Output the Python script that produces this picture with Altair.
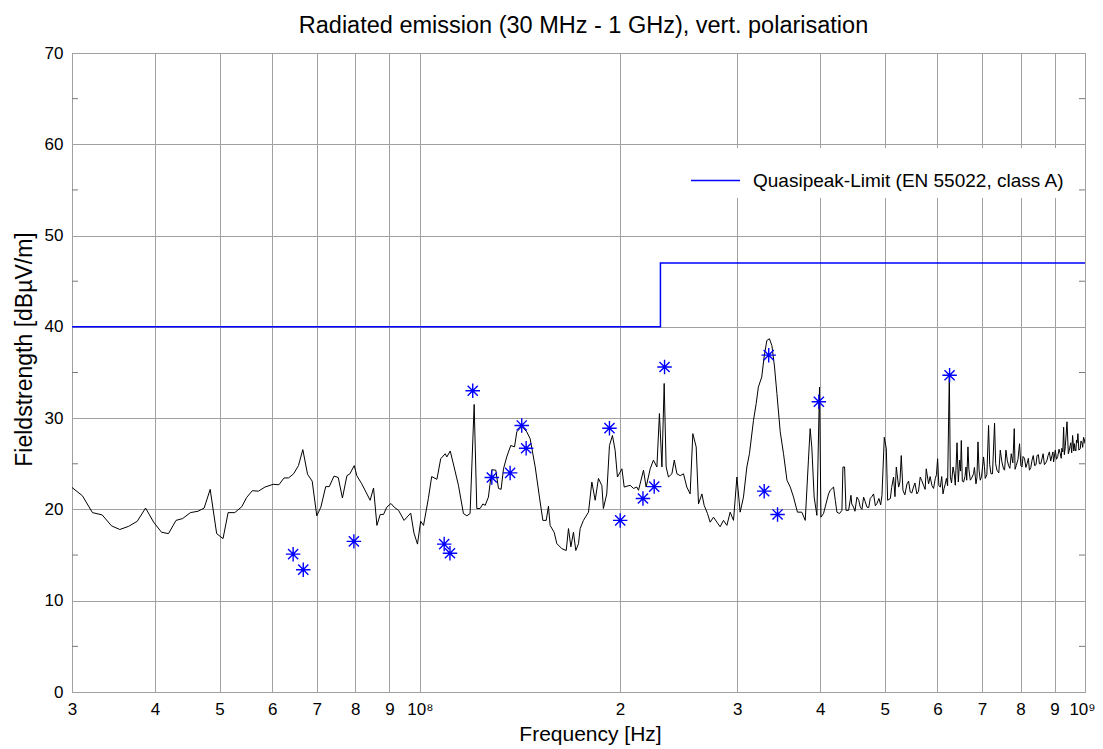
import altair as alt
import pandas as pd
import numpy as np

# ---------------- data ----------------
# measured trace: frequency in MHz, level in dBuV/m
freq_mhz = [
    30.0, 31.1, 32.2, 33.3, 34.4, 35.4, 36.5, 37.6, 38.7, 39.8,
    40.9, 41.9, 43.0, 44.0, 45.2, 46.4, 47.4, 48.4, 49.5, 50.6,
    51.5, 52.7, 54.0, 54.9, 56.0, 57.2, 58.5, 60.2, 61.4, 62.5,
    63.5, 64.6, 65.7, 66.7, 67.8, 68.9, 70.0, 71.0, 72.2, 73.1,
    74.3, 75.4, 76.5, 77.7, 78.5, 79.7, 80.4, 81.8, 83.0, 84.2,
    85.2, 86.2, 87.2, 88.2, 89.2, 90.5, 91.5, 92.9, 94.7, 96.9,
    98.0, 99.2, 100.3, 101.3, 103.0, 104.2, 106.1, 107.5, 109.2, 109.8,
    111.1, 112.6, 114.3, 116.3, 117.7, 119.0, 120.7, 121.8, 123.2, 124.4,
    125.4, 126.8, 128.3, 130.1, 131.3, 132.5, 133.6, 135.1, 137.0, 138.8,
    139.9, 142.4, 144.8, 146.5, 149.1, 151.3, 153.1, 154.9, 156.1, 157.0,
    159.2, 160.7, 163.5, 166.0, 167.3, 168.7, 170.2, 171.6, 173.2, 174.2,
    176.2, 179.3, 181.4, 183.5, 185.6, 187.8, 188.8, 191.0, 192.8, 194.8,
    196.6, 198.2, 201.3, 202.9, 207.1, 209.5, 212.0, 213.2, 216.9, 218.9,
    222.0, 224.5, 227.2, 229.2, 231.2, 233.0, 234.6, 236.5, 239.3, 241.3,
    243.5, 246.3, 249.1, 252.0, 254.9, 257.3, 260.3, 262.4, 265.5, 267.6,
    270.7, 273.2, 276.4, 279.7, 282.8, 286.1, 289.5, 292.8, 296.2, 299.7,
    303.1, 306.6, 310.2, 313.0, 317.4, 320.4, 322.8, 326.6, 329.3, 332.4,
    335.4, 338.3, 341.4, 344.2, 348.2, 352.2, 356.4, 360.5, 364.6, 369.6,
    375.2, 379.7, 383.9, 386.2, 388.4, 391.6, 395.3, 398.9, 400.9, 404.5,
    411.6, 414.0, 418.8, 421.3, 423.7, 427.5, 431.1, 432.6, 435.1, 437.2,
    441.2, 444.8, 448.8, 454.1, 459.4, 464.7, 470.2, 475.5, 481.0, 486.7,
    495.2, 499.2, 502.7, 505.0, 509.8, 515.5, 520.4, 524.6, 529.4, 532.5,
    540.0, 546.1, 552.3, 558.8, 565.3, 571.8, 577.2, 581.9, 588.8, 595.6,
    600.4, 606.1, 611.7, 616.6, 621.5, 625.2, 627.4, 633.3, 638.3, 642.1,
    647.9, 651.7, 656.9, 662.4, 666.9, 672.3, 679.9, 685.6, 690.4, 695.9,
    703.9, 708.0, 716.2, 722.2, 731.2, 737.3, 745.8, 754.3, 760.6, 767.6,
    774.7, 782.8, 788.2, 797.3, 804.1, 811.0, 818.2, 825.0, 832.5, 840.0,
    847.0, 854.0, 861.7, 869.0, 876.8, 884.0, 892.0, 897.0, 902.3, 910.0,
    918.0, 923.0, 928.7, 934.0, 939.6, 947.1, 952.0, 958.0, 962.0, 966.9,
    971.0, 975.8, 983.9, 989.0, 995.1, 1000.0,
]
level_db = [
    22.4, 21.5, 19.65, 19.4, 18.2, 17.8, 18.15, 18.7, 20.15, 18.6,
    17.5, 17.35, 18.8, 19.0, 19.65, 19.8, 20.15, 22.2, 17.35, 16.8,
    19.65, 19.65, 20.3, 21.3, 22.05, 22.0, 22.45, 22.75, 22.7, 23.45,
    23.45, 23.9, 24.8, 26.55, 23.85, 23.1, 19.3, 20.25, 22.5, 22.5,
    23.65, 23.5, 21.25, 23.7, 23.9, 24.8, 23.7, 22.8, 21.9, 21.0,
    22.35, 18.25, 19.45, 19.45, 20.25, 20.65, 20.25, 19.9, 18.8, 19.6,
    17.4, 16.2, 18.7, 18.25, 21.2, 23.6, 23.3, 25.55, 26.1, 25.75,
    26.4, 24.65, 22.65, 19.55, 19.3, 19.55, 31.5, 20.1, 20.1, 20.6,
    20.45, 21.35, 24.35, 24.3, 22.3, 22.2, 24.45, 25.75, 27.0, 26.85,
    28.5, 29.1, 28.5, 27.75, 24.65, 21.35, 18.8, 18.8, 20.35, 18.25,
    17.5, 16.25, 15.7, 15.5, 17.9, 15.9, 17.5, 15.5, 16.25, 17.9,
    18.8, 19.7, 23.0, 21.0, 23.4, 22.6, 20.1, 21.7, 27.0, 28.1,
    26.5, 23.55, 24.45, 22.45, 22.65, 22.3, 22.45, 22.1, 24.3, 22.45,
    24.45, 25.4, 24.65, 30.5, 24.65, 33.8, 24.65, 23.55, 23.9, 25.4,
    23.9, 23.7, 23.9, 22.45, 21.7, 28.3, 26.85, 20.6, 21.7, 20.45,
    19.55, 18.6, 19.15, 18.6, 18.1, 18.8, 18.25, 19.7, 18.8, 23.55,
    19.7, 21.35, 24.65, 26.1, 29.75, 31.6, 33.4, 34.5, 36.7, 38.5,
    38.7, 37.95, 35.6, 32.7, 28.5, 26.1, 23.2, 22.45, 21.35, 19.7,
    19.7, 18.8, 25.4, 28.85, 26.85, 21.35, 19.35, 33.4, 19.15, 19.55,
    21.7, 22.1, 22.45, 21.0, 19.7, 19.55, 19.9, 24.65, 24.65, 19.9,
    19.9, 21.55, 20.25, 21.35, 20.25, 21.35, 20.25, 21.2, 21.7, 20.65,
    21.55, 27.9, 26.65, 21.0, 21.2, 23.55, 24.65, 22.45, 25.9, 22.1,
    22.8, 21.9, 22.45, 21.7, 23.55, 22.65, 24.45, 22.8, 22.6, 23.4,
    25.55, 22.45, 21.7, 22.8, 22.6, 34.9, 23.55, 24.65, 22.65, 27.3,
    25.4, 27.55, 23.0, 24.65, 26.85, 23.2, 23.9, 22.8, 27.4, 23.2,
    25.75, 23.4, 29.2, 23.9, 29.45, 24.3, 26.5, 24.45, 26.5, 24.8,
    26.1, 28.85, 24.8, 27.2, 24.65, 25.6, 25.0, 24.3, 25.4, 24.8,
    25.9, 25.0, 25.55, 24.9, 25.4, 26.3, 25.9, 25.2, 26.5, 25.8,
    26.1, 26.7, 29.0, 26.85, 29.6, 26.5, 27.3, 28.1, 26.4, 26.5,
    27.6, 28.3, 26.65, 27.4, 27.9, 27.2,
]
# extra readings of the dense noise band above 440 MHz
fine_freq_mhz = [
    446, 451, 457, 462, 467, 473, 478, 484, 490, 493,
    512, 518, 527, 536, 543, 549, 555, 562, 568, 575,
    585, 592, 598, 603, 609, 614, 619, 630, 636, 645,
    650, 654, 660, 664, 669, 675, 682, 688, 693, 699,
    706, 712, 719, 726, 734, 742, 750, 757, 764, 771,
    779, 785, 793, 801, 807, 815, 822, 829, 836, 844,
    851, 858, 865, 873, 880, 888, 895, 906, 914, 921,
    926, 931, 944, 950, 955, 964, 969, 973, 979, 986,
    992, 998,
]
fine_level_db = [
    20.6, 19.8, 21.0, 20.0, 20.9, 20.2, 21.4, 20.4, 21.2, 20.5,
    22.4, 21.4, 23.0, 21.6, 23.1, 21.8, 22.9, 22.0, 23.2, 22.2,
    23.6, 22.3, 23.8, 22.6, 23.6, 22.3, 23.4, 22.9, 23.9, 23.0,
    24.2, 23.1, 23.6, 23.2, 24.4, 23.4, 24.6, 23.5, 24.3, 23.6,
    24.7, 23.8, 24.9, 23.9, 25.0, 24.0, 25.2, 24.3, 25.4, 24.5,
    25.1, 24.4, 25.5, 24.8, 25.8, 24.6, 25.6, 24.6, 25.9, 24.9,
    26.0, 25.0, 26.1, 25.1, 25.9, 25.3, 26.3, 25.5, 26.6, 25.6,
    26.3, 26.0, 26.1, 27.0, 26.2, 27.2, 26.4, 27.3, 26.5, 27.5,
    26.8, 27.6,
]

# quasi-peak measurement points (blue asterisks)
marker_freq_mhz = [64.5, 66.8, 79.6, 108.8, 111.0, 120.1, 128.3, 136.7, 142.3, 144.5,
                   192.8, 200.1, 216.5, 225.1, 233.3, 329.4, 334.6, 345.0, 398.0, 625.8]
marker_level_db = [15.1, 13.4, 16.5, 16.2, 15.2, 33.0, 23.5, 24.0, 29.2, 26.7,
                   28.9, 18.8, 21.2, 22.5, 35.6, 22.0, 36.9, 19.45, 31.8, 34.7]

# limit line (step)
limit_freq_mhz = [30, 230, 1000]
limit_level_db = [40, 47, 47]
limit_label = "Quasipeak-Limit (EN 55022, class A)"

x_tick_values = [3e7, 4e7, 5e7, 6e7, 7e7, 8e7, 9e7,
                 1e8, 2e8, 3e8, 4e8, 5e8, 6e8, 7e8, 8e8, 9e8, 1e9]
y_tick_values = [0, 10, 20, 30, 40, 50, 60, 70]
y_minor_ticks = [5, 15, 25, 35, 45, 55, 65]

# ---------------- chart ----------------
W, H = 1013, 639
FONT = "Liberation Sans"
GRID = "#a0a0a0"
FRAME = "#7a7a7a"

trace = pd.DataFrame({"f": np.array(freq_mhz + fine_freq_mhz, dtype=float) * 1e6,
                      "v": level_db + fine_level_db}).sort_values("f")
markers = pd.DataFrame({"f": np.array(marker_freq_mhz) * 1e6, "v": marker_level_db})
limit = pd.DataFrame({"f": np.array(limit_freq_mhz) * 1e6, "v": limit_level_db,
                      "s": [limit_label] * len(limit_freq_mhz)})
minor = pd.DataFrame({"v": y_minor_ticks})

xscale = alt.Scale(type="log", domain=[3e7, 1e9], nice=False)
yscale = alt.Scale(domain=[0, 70], nice=False)

label_expr = (
    "abs(datum.value - 1e8) < 1 ? '10\u2078' : "
    "(abs(datum.value - 1e9) < 1 ? '10\u2079' : "
    "format(round(datum.value / pow(10, floor(log(datum.value) / LN10 + 1e-9))), 'd'))"
)

xaxis = alt.Axis(values=x_tick_values, labelExpr=label_expr, grid=True, ticks=False,
                 domain=False, labelOverlap=False, labelFlush=False,
                 labelOffset={"condition": {"test": "datum.value > 9.5e8", "value": -3},
                              "value": 0},
                 labelFontSize=17, labelPadding=9, labelColor="black",
                 title="Frequency [Hz]", titleFontSize=21, titleFontWeight="normal",
                 titlePadding=6, titleX=518, titleColor="black")
yaxis = alt.Axis(values=y_tick_values, grid=True, ticks=False, domain=False,
                 labelFontSize=17, labelPadding=9, labelColor="black",
                 title="Fieldstrength [dB\u00b5V/m]", titleFontSize=23,
                 titleFontWeight="normal", titlePadding=8, titleY=296, titleColor="black")

trace_layer = alt.Chart(trace).mark_line(color="black", strokeWidth=1, clip=True).encode(
    x=alt.X("f:Q", scale=xscale, axis=xaxis),
    y=alt.Y("v:Q", scale=yscale, axis=yaxis))

limit_layer = alt.Chart(limit).mark_line(interpolate="step-after", strokeWidth=1.5, clip=True).encode(
    x=alt.X("f:Q", scale=xscale, axis=xaxis),
    y=alt.Y("v:Q", scale=yscale, axis=yaxis),
    color=alt.Color("s:N", scale=alt.Scale(domain=[limit_label], range=["#0000ff"]),
                    legend=alt.Legend(orient="none", legendX=611, legendY=95, title=None,
                                      symbolType="stroke", symbolSize=2401,
                                      symbolStrokeWidth=1.5, labelFontSize=19,
                                      labelFont=FONT, labelColor="black",
                                      labelOffset=12, labelLimit=0,
                                      fillColor="white", padding=7)),
)

asterisk = "M-1,0L1,0M0,-1L0,1M-0.7,-0.7L0.7,0.7M-0.7,0.7L0.7,-0.7"
marker_layer = alt.Chart(markers).mark_point(shape=asterisk, size=210, filled=False,
                                             color="#0000ff", strokeWidth=1.4,
                                             opacity=1).encode(
    x=alt.X("f:Q", scale=xscale, axis=xaxis),
    y=alt.Y("v:Q", scale=yscale, axis=yaxis))

tick_left = alt.Chart(minor).mark_rule(color=FRAME, strokeWidth=1).encode(
    y=alt.Y("v:Q", scale=yscale, axis=yaxis), x=alt.value(0), x2=alt.value(6))
tick_right = alt.Chart(minor).mark_rule(color=FRAME, strokeWidth=1).encode(
    y=alt.Y("v:Q", scale=yscale, axis=yaxis), x=alt.value(W - 6), x2=alt.value(W))

chart = alt.layer(trace_layer, limit_layer, marker_layer, tick_left, tick_right).properties(
    width=W, height=H,
    title=alt.TitleParams("Radiated emission (30 MHz - 1 GHz), vert. polarisation",
                          fontSize=23.5, font=FONT, fontWeight="normal", color="black",
                          offset=7, dx=5, anchor="middle"),
    padding={"left": 64, "top": 45, "right": 10, "bottom": 54},
    autosize=alt.AutoSizeParams(type="none"),
).configure(font=FONT, background="white").configure_view(
    stroke=FRAME, strokeWidth=1
).configure_axis(
    gridColor=GRID, gridWidth=1, gridOpacity=1, labelFont=FONT, titleFont=FONT
)

chart.save("out.html", embed_options={"renderer": "svg", "actions": False})
